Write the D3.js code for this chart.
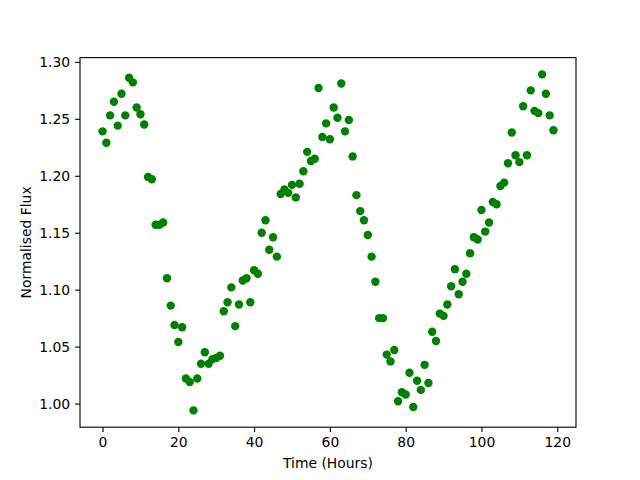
<html>
<head>
<script src="https://d3js.org/d3.v7.min.js"></script>
<style>
  body { margin: 0; background: white; }
  text { font-family: "DejaVu Sans", sans-serif; }
</style>
</head>
<body>
<svg id="chart" width="640" height="480"></svg>
<script>
// hours 0..119, one reading per hour
var hours = d3.range(0, 120)
var flux = [
  1.239, 1.229, 1.253, 1.265, 1.244, 1.272, 1.253, 1.286, 1.282, 1.260,
  1.254, 1.245, 1.199, 1.197, 1.157, 1.157, 1.159, 1.110, 1.086, 1.069,
  1.054, 1.067, 1.022, 1.019, 0.994, 1.022, 1.035, 1.045, 1.035, 1.039,
  1.040, 1.042, 1.081, 1.089, 1.102, 1.068, 1.087, 1.108, 1.110, 1.089,
  1.117, 1.114, 1.150, 1.161, 1.135, 1.146, 1.129, 1.184, 1.188, 1.185,
  1.192, 1.181, 1.193, 1.204, 1.221, 1.213, 1.215, 1.277, 1.234, 1.246,
  1.232, 1.260, 1.251, 1.281, 1.239, 1.249, 1.217, 1.183, 1.169, 1.161,
  1.148, 1.129, 1.107, 1.075, 1.075, 1.043, 1.037, 1.047, 1.002, 1.010,
  1.008, 1.027, 0.997, 1.020, 1.012, 1.034, 1.018, 1.063, 1.055, 1.079,
  1.077, 1.087, 1.103, 1.118, 1.096, 1.107, 1.114, 1.132, 1.146, 1.144,
  1.170, 1.151, 1.159, 1.177, 1.175, 1.191, 1.194, 1.211, 1.238, 1.218,
  1.212, 1.261, 1.218, 1.275, 1.257, 1.255, 1.289, 1.272, 1.253, 1.240
]
var xTicks = [0, 20, 40, 60, 80, 100, 120]
var yTicks = [1.00, 1.05, 1.10, 1.15, 1.20, 1.25, 1.30]

var plotLeft = 80, plotRight = 576, plotTop = 57.6, plotBottom = 427.2

// matplotlib style 5% padding
function padded(ext) {
  var p = (ext[1] - ext[0]) * 0.05
  return [ext[0] - p, ext[1] + p]
}
var x = d3.scaleLinear().domain(padded(d3.extent(hours))).range([plotLeft, plotRight])
var y = d3.scaleLinear().domain(padded(d3.extent(flux))).range([plotBottom, plotTop])

var svg = d3.select("#chart")

svg.append("g")
  .selectAll("circle")
  .data(hours)
  .enter()
  .append("circle")
    .attr("cx", function(d) { return x(d) })
    .attr("cy", function(d, i) { return y(flux[i]) })
    .attr("r", 4.2)
    .attr("fill", "green")

var xAxis = d3.axisBottom(x).tickValues(xTicks).tickSize(4.9).tickPadding(4.9).tickFormat(d3.format("d"))
var yAxis = d3.axisLeft(y).tickValues(yTicks).tickSize(4.9).tickPadding(4.9).tickFormat(d3.format(".2f"))

var gx = svg.append("g").attr("transform", "translate(0," + plotBottom + ")").call(xAxis)
var gy = svg.append("g").attr("transform", "translate(" + plotLeft + ",0)").call(yAxis)
gx.select(".domain").remove()
gy.select(".domain").remove()
svg.selectAll(".tick line").attr("stroke", "black").attr("stroke-width", 1.1)
svg.selectAll(".tick text").attr("font-size", "13.9px").attr("fill", "black")
  .attr("font-family", "DejaVu Sans")

svg.append("rect")
  .attr("x", plotLeft).attr("y", plotTop)
  .attr("width", plotRight - plotLeft).attr("height", plotBottom - plotTop)
  .attr("fill", "none").attr("stroke", "black").attr("stroke-width", 1.1)

svg.append("text")
  .attr("x", (plotLeft + plotRight) / 2).attr("y", 468)
  .attr("text-anchor", "middle").attr("font-size", "13.9px")
  .text("Time (Hours)")

svg.append("text")
  .attr("transform", "translate(31," + ((plotTop + plotBottom) / 2) + ") rotate(-90)")
  .attr("text-anchor", "middle").attr("font-size", "13.9px")
  .text("Normalised Flux")
</script>
</body>
</html>
